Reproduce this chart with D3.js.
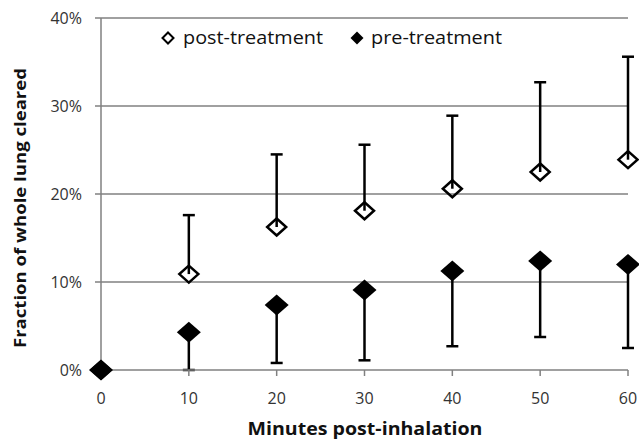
<!DOCTYPE html>
<html><head><meta charset="utf-8">
<script src="https://cdn.jsdelivr.net/npm/d3@7"></script>
<style>body{margin:0;background:#fff}svg{display:block}text{font-family:"Open Sans",sans-serif}</style>
</head><body><svg id="c" width="639" height="440"></svg>
<script>
const minutes = [0, 10, 20, 30, 40, 50, 60];
const postMean = [0, 10.9, 16.25, 18.1, 20.6, 22.5, 23.9];
const postUpper = [null, 17.6, 24.5, 25.6, 28.9, 32.7, 35.6];
const preMean = [0, 4.3, 7.4, 9.1, 11.25, 12.4, 12.0];
const preLower = [null, 0, 0.8, 1.1, 2.7, 3.75, 2.5];
const yTicks = [0, 10, 20, 30, 40];
const xTicks = [0, 10, 20, 30, 40, 50, 60];
const seriesNames = ["post-treatment", "pre-treatment"];

const svg = d3.select("#c");
const x = d3.scaleLinear().domain([0, 60]).range([101, 628]);
const y = d3.scaleLinear().domain([0, 40]).range([370, 18]);
const gray = "#808080";

// gridlines + y ticks
svg.append("g").selectAll("line").data(yTicks.filter(d => d > 0)).join("line")
  .attr("x1", 95).attr("x2", 628).attr("y1", d => y(d)).attr("y2", d => y(d))
  .attr("stroke", gray).attr("stroke-width", 1.5);
svg.append("line").attr("x1", 95).attr("x2", 101).attr("y1", y(0)).attr("y2", y(0))
  .attr("stroke", gray).attr("stroke-width", 1.5);
// y axis line
svg.append("line").attr("x1", x(0)).attr("x2", x(0)).attr("y1", y(40)).attr("y2", y(0))
  .attr("stroke", gray).attr("stroke-width", 1.5);

// y tick labels
svg.append("g").selectAll("text").data(yTicks).join("text")
  .attr("x", 82).attr("y", d => y(d)).attr("dy", "0.36em").attr("text-anchor", "end")
  .attr("font-size", 16).attr("fill", "#333").text(d => d + "%");

// error bars
const cap = 6;
const post = minutes.map((m, i) => ({m, v: postMean[i], e: postUpper[i]}));
const pre = minutes.map((m, i) => ({m, v: preMean[i], e: preLower[i]}));
function bars(data) {
  const g = svg.append("g").attr("stroke", "#000").attr("stroke-width", 2.5);
  const d2 = data.filter(d => d.e !== null);
  g.selectAll(".v").data(d2).join("line")
    .attr("x1", d => x(d.m)).attr("x2", d => x(d.m)).attr("y1", d => y(d.v)).attr("y2", d => y(d.e));
  g.selectAll(".c").data(d2).join("line")
    .attr("x1", d => x(d.m) - cap).attr("x2", d => x(d.m) + cap).attr("y1", d => y(d.e)).attr("y2", d => y(d.e));
}
bars(post); bars(pre);

// x axis line + ticks
svg.append("line").attr("x1", x(0)).attr("x2", x(60)).attr("y1", y(0)).attr("y2", y(0))
  .attr("stroke", gray).attr("stroke-width", 1.5);
svg.append("g").selectAll("line").data(xTicks).join("line")
  .attr("x1", d => x(d)).attr("x2", d => x(d)).attr("y1", y(0)).attr("y2", y(0) + 6)
  .attr("stroke", gray).attr("stroke-width", 1.5);
svg.append("g").selectAll("text").data(xTicks).join("text")
  .attr("x", d => x(d)).attr("y", 398).attr("dy", "0.36em").attr("text-anchor", "middle")
  .attr("font-size", 16).attr("fill", "#333").text(d => d);

// markers
function diamond(w, h) { return `M0,${-h/2}L${w/2},0L0,${h/2}L${-w/2},0Z`; }
svg.append("g").selectAll("path").data(post).join("path")
  .attr("d", diamond(19, 17)).attr("transform", d => `translate(${x(d.m)},${y(d.v)})`)
  .attr("fill", "none").attr("stroke", "#000").attr("stroke-width", 2.5);
svg.append("g").selectAll("path").data(pre).join("path")
  .attr("d", diamond(24, 21)).attr("transform", d => `translate(${x(d.m)},${y(d.v)})`)
  .attr("fill", "#000");

// legend
const lg = svg.append("g");
lg.append("path").attr("d", diamond(11, 11)).attr("transform", "translate(168,38)")
  .attr("fill", "#fff").attr("stroke", "#000").attr("stroke-width", 2);
lg.append("text").attr("x", 183).attr("y", 38).attr("dy", "0.36em").attr("font-size", 18).attr("fill", "#111")
  .attr("textLength", 140).attr("lengthAdjust", "spacingAndGlyphs").text(seriesNames[0]);
lg.append("path").attr("d", diamond(13, 13)).attr("transform", "translate(357,38)").attr("fill", "#000");
lg.append("text").attr("x", 371).attr("y", 38).attr("dy", "0.36em").attr("font-size", 18).attr("fill", "#111")
  .attr("textLength", 131).attr("lengthAdjust", "spacingAndGlyphs").text(seriesNames[1]);

// axis titles
svg.append("text").attr("x", 365).attr("y", 429).attr("dy", "0.36em").attr("text-anchor", "middle")
  .attr("font-size", 17).attr("font-weight", "bold").attr("fill", "#111")
  .attr("textLength", 235).attr("lengthAdjust", "spacingAndGlyphs").text("Minutes post-inhalation");
svg.append("text").attr("transform", "translate(20,208) rotate(-90)").attr("dy", "0.36em")
  .attr("text-anchor", "middle").attr("font-size", 16).attr("font-weight", "bold").attr("fill", "#111")
  .attr("textLength", 280).attr("lengthAdjust", "spacingAndGlyphs").text("Fraction of whole lung cleared");
</script></body></html>
